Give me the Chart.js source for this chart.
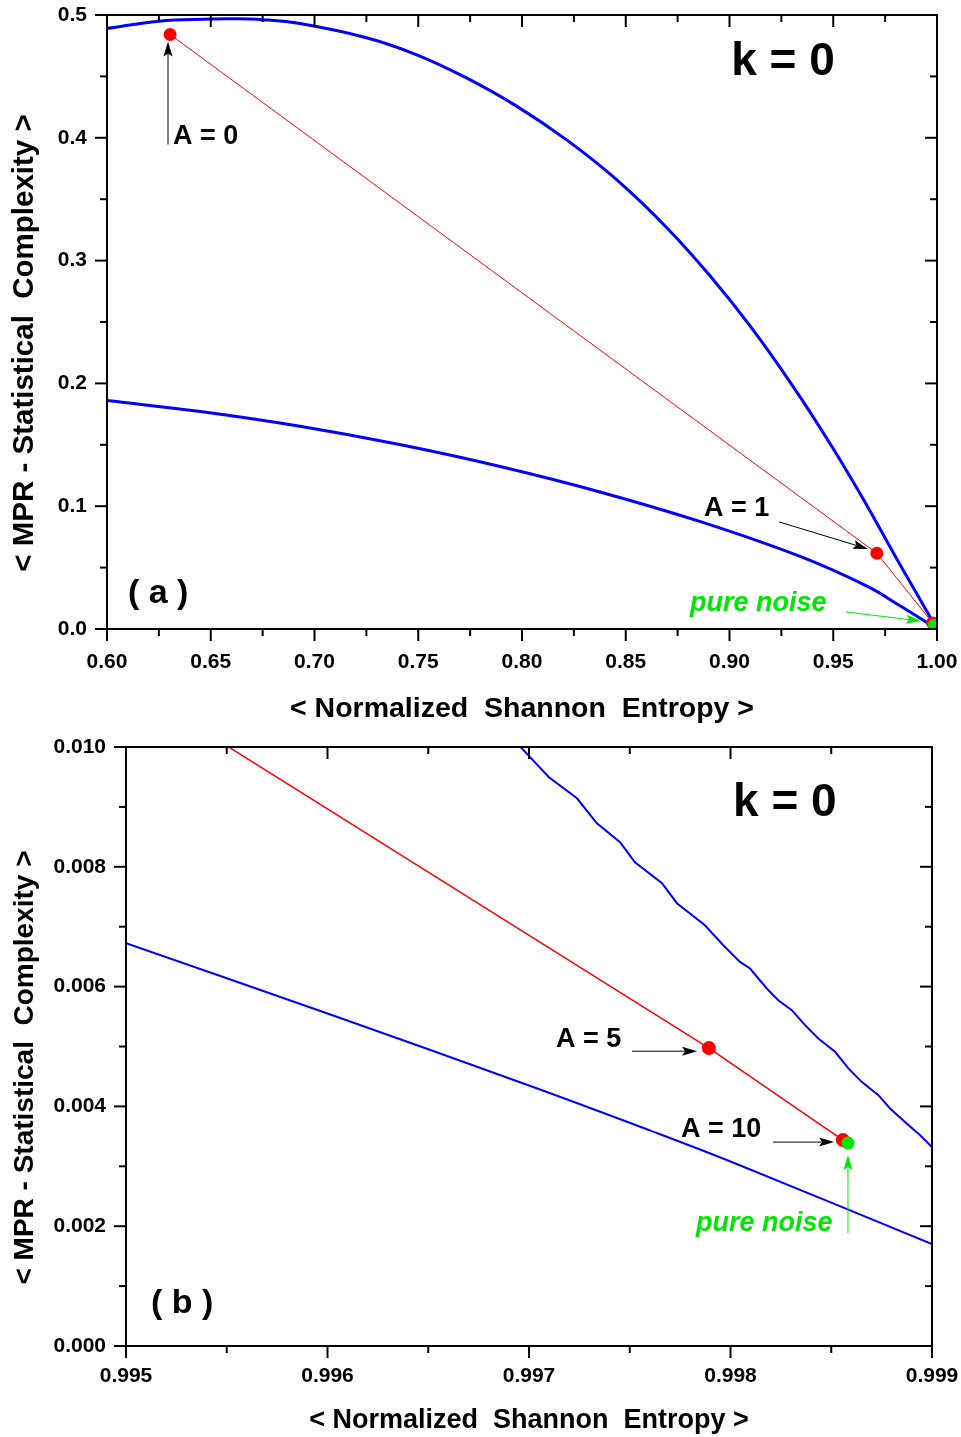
<!DOCTYPE html>
<html>
<head>
<meta charset="utf-8">
<title>MPR complexity vs normalized Shannon entropy, k = 0</title>
<script src="https://cdn.jsdelivr.net/npm/chart.js@4.4.1/dist/chart.umd.min.js"></script>
<style>
  html, body { margin: 0; padding: 0; background: #fff; }
  #wrap { position: relative; width: 961px; height: 1437px; }
  #wrap canvas { position: absolute; left: 0; }
</style>
</head>
<body>
<div id="wrap">
  <canvas id="panelA" width="961" height="730" style="top:0"></canvas>
  <canvas id="panelB" width="961" height="707" style="top:730px"></canvas>
</div>
<script>
// ---- panel (a) data ----
const maxH_a = [0.600, 0.625, 0.650, 0.660, 0.675, 0.693, 0.725, 0.749, 0.773, 0.797, 0.822, 0.846, 0.870, 0.891, 0.910, 0.931, 0.950, 0.966, 0.979, 0.990, 1.000];
const maxC_a = [0.489, 0.4950, 0.4967, 0.4970, 0.4962, 0.4930, 0.4815, 0.4678, 0.4490, 0.4262, 0.3977, 0.3653, 0.3264, 0.2869, 0.2466, 0.1966, 0.1468, 0.1012, 0.0619, 0.0295, 0.000];
const minH_a = [0.600, 0.645, 0.693, 0.741, 0.789, 0.838, 0.886, 0.934, 0.966, 0.982, 1.000];
const minC_a = [0.1861, 0.1771, 0.1651, 0.1502, 0.1325, 0.1114, 0.0874, 0.0591, 0.0351, 0.0191, 0.000];
const xTicks_a = [0.60, 0.65, 0.70, 0.75, 0.80, 0.85, 0.90, 0.95, 1.00];
const yTicks_a = [0.0, 0.1, 0.2, 0.3, 0.4, 0.5];

// ---- panel (b) data ----
const maxH_b = [0.99692, 0.996955, 0.997099, 0.997238, 0.997337, 0.997452, 0.997526, 0.997660, 0.997734, 0.997799, 0.997873, 0.997964, 0.998047, 0.998097, 0.998180, 0.998237, 0.998304, 0.998370, 0.998436, 0.998519, 0.998585, 0.998651, 0.998734, 0.998792, 0.998874, 0.998940, 0.999006];
const maxC_b = [0.01014, 0.01001, 0.009494, 0.009144, 0.008727, 0.008410, 0.008076, 0.007726, 0.007392, 0.007220, 0.007025, 0.006691, 0.006413, 0.006302, 0.005969, 0.005773, 0.005607, 0.005356, 0.005134, 0.004911, 0.004634, 0.004410, 0.004188, 0.003966, 0.003716, 0.003521, 0.003299];
const minH_b = [0.995, 0.996, 0.997, 0.9976, 0.998, 0.999];
const minC_b = [0.006725, 0.00555, 0.00435, 0.0036, 0.00308, 0.0017];
const xTicks_b = [0.995, 0.996, 0.997, 0.998, 0.999];
const yTicks_b = [0.000, 0.002, 0.004, 0.006, 0.008, 0.010];

// ---- model path A = 0, 1, 5, 10 and pure noise (shared) ----
const ampLabels = ['A = 0', 'A = 1', 'A = 5', 'A = 10'];
const pathH = [0.6304, 0.9710, 0.997893, 0.998558];
const pathC = [0.4841, 0.0617, 0.004973, 0.003437];
const noiseH = [0.998583];
const noiseC = [0.003387];

const FONT = "'Liberation Sans', Arial, sans-serif";
const BLUE = '#0000ff', RED = '#ff0000', GREEN = '#00e600';

const xy = (hs, cs) => hs.map((h, i) => ({ x: h, y: cs[i] }));

function arrow(ctx, x1, y1, x2, y2, color) {
  const ang = Math.atan2(y2 - y1, x2 - x1);
  const len = 15, half = 4.5;
  const c = Math.cos(ang), s = Math.sin(ang);
  ctx.strokeStyle = color;
  ctx.fillStyle = color;
  ctx.lineWidth = 1;
  ctx.beginPath();
  ctx.moveTo(x1, y1);
  ctx.lineTo(x2 - c * len * 0.8, y2 - s * len * 0.8);
  ctx.stroke();
  ctx.beginPath();
  ctx.moveTo(x2, y2);
  ctx.lineTo(x2 - c * len - s * half, y2 - s * len + c * half);
  ctx.lineTo(x2 - c * len * 0.8, y2 - s * len * 0.8);
  ctx.lineTo(x2 - c * len + s * half, y2 - s * len - c * half);
  ctx.closePath();
  ctx.fill();
}

// frame, inward/outward ticks, y title and annotations
const panelDecor = {
  id: 'panelDecor',
  afterDatasetsDraw(chart, args, opts) {
    const { ctx, chartArea: a, scales: { x, y } } = chart;
    ctx.save();
    ctx.strokeStyle = '#000';
    ctx.lineWidth = 2;
    ctx.strokeRect(a.left, a.top, a.right - a.left, a.bottom - a.top);

    const major = 12, minor = 7;
    const xs = x.ticks.map(t => t.value), ys = y.ticks.map(t => t.value);
    const mids = v => v.slice(1).map((t, i) => (t + v[i]) / 2);
    const tick = (x1, y1, x2, y2) => { ctx.beginPath(); ctx.moveTo(x1, y1); ctx.lineTo(x2, y2); ctx.stroke(); };
    [[xs, major], [mids(xs), minor]].forEach(([vals, l]) => vals.forEach(v => {
      const px = x.getPixelForValue(v);
      tick(px, a.bottom, px, a.bottom + l);
      tick(px, a.top, px, a.top + l);
    }));
    [[ys, major], [mids(ys), minor]].forEach(([vals, l]) => vals.forEach(v => {
      const py = y.getPixelForValue(v);
      tick(a.left, py, a.left - l, py);
      tick(a.right, py, a.right - l, py);
    }));

    // y axis title
    ctx.save();
    ctx.translate(25, (a.top + a.bottom) / 2 + 21);
    ctx.rotate(-Math.PI / 2);
    ctx.font = 'bold ' + opts.yTitleSize + 'px ' + FONT;
    ctx.fillStyle = '#000';
    ctx.textAlign = 'center';
    ctx.textBaseline = 'middle';
    ctx.fillText(opts.yTitle, 0, 0);
    ctx.restore();

    (opts.arrows || []).forEach(r => {
      arrow(ctx, x.getPixelForValue(r.from[0]), y.getPixelForValue(r.from[1]),
        x.getPixelForValue(r.to[0]), y.getPixelForValue(r.to[1]), r.color);
    });
    (opts.texts || []).forEach(t => {
      ctx.font = t.font + ' ' + FONT;
      ctx.fillStyle = t.color || '#000';
      ctx.textAlign = t.align || 'left';
      ctx.textBaseline = 'middle';
      ctx.fillText(t.text, x.getPixelForValue(t.at[0]), y.getPixelForValue(t.at[1]) + 2);
    });
    ctx.restore();
  }
};

// keep the plot box where layout.padding puts it
const noEdgePadding = s => { s.paddingTop = s.paddingBottom = s.paddingLeft = s.paddingRight = 0; };

function makePanel(id, cfg) {
  const tickFont = { family: FONT, size: 21, weight: 'bold' };
  return new Chart(document.getElementById(id), {
    type: 'scatter',
    data: {
      datasets: [
        { data: xy(noiseH, noiseC), showLine: false, pointRadius: cfg.dot - 0.5, pointBackgroundColor: GREEN, pointBorderWidth: 0 },
        { data: xy(pathH, pathC), showLine: true, borderColor: RED, borderWidth: cfg.redWidth, pointRadius: cfg.dot, pointBackgroundColor: RED, pointBorderWidth: 0 },
        { data: xy(cfg.maxH, cfg.maxC), showLine: true, borderColor: BLUE, borderWidth: cfg.blueWidth, pointRadius: 0, tension: cfg.tension },
        { data: xy(cfg.minH, cfg.minC), showLine: true, borderColor: BLUE, borderWidth: cfg.blueWidth, pointRadius: 0, tension: 0.4 }
      ]
    },
    options: {
      responsive: false,
      animation: false,
      events: [],
      layout: { padding: cfg.padding },
      plugins: {
        legend: { display: false },
        tooltip: { enabled: false },
        panelDecor: { yTitle: '< MPR - Statistical  Complexity >', yTitleSize: cfg.yTitleSize, texts: cfg.texts, arrows: cfg.arrows }
      },
      scales: {
        x: {
          type: 'linear', min: cfg.xTicks[0], max: cfg.xTicks[cfg.xTicks.length - 1],
          afterBuildTicks: s => { s.ticks = cfg.xTicks.map(v => ({ value: v })); },
          afterFit: s => { s.height = cfg.xHeight; noEdgePadding(s); },
          grid: { display: false, drawTicks: false },
          border: { display: false },
          ticks: { font: tickFont, color: '#000', padding: cfg.xPad, maxRotation: 0, autoSkip: false, callback: v => v.toFixed(cfg.xDec) },
          title: { display: true, text: '< Normalized  Shannon  Entropy >', color: '#000', font: { family: FONT, size: cfg.xTitleSize, weight: 'bold' }, padding: { top: 0, bottom: cfg.titlePad } }
        },
        y: {
          type: 'linear', min: cfg.yTicks[0], max: cfg.yTicks[cfg.yTicks.length - 1],
          afterBuildTicks: s => { s.ticks = cfg.yTicks.map(v => ({ value: v })); },
          afterFit: s => { s.width = cfg.yWidth; noEdgePadding(s); },
          grid: { display: false, drawTicks: false },
          border: { display: false },
          ticks: { font: tickFont, color: '#000', padding: 20, autoSkip: false, callback: v => v.toFixed(cfg.yDec) }
        }
      }
    },
    plugins: [panelDecor]
  });
}

makePanel('panelA', {
  maxH: maxH_a, maxC: maxC_a, minH: minH_a, minC: minC_a, tension: 0.4,
  xTicks: xTicks_a, yTicks: yTicks_a, xDec: 2, yDec: 1,
  padding: { top: 15, right: 24, left: 0, bottom: 0 }, xHeight: 101, yWidth: 107,
  xPad: 21, titlePad: 4, xTitleSize: 28.5, yTitleSize: 29.5, blueWidth: 3, redWidth: 1, dot: 6.5,
  texts: [
    { text: 'k = 0', at: [0.9258, 0.4635], font: 'bold 46px', align: 'center' },
    { text: ampLabels[0], at: [0.6318, 0.4026], font: 'bold 27px' },
    { text: ampLabels[1], at: [0.8877, 0.0994], font: 'bold 27px' },
    { text: 'pure noise', at: [0.8810, 0.0220], font: 'italic bold 27px', color: GREEN },
    { text: '( a )', at: [0.6101, 0.0302], font: 'bold 34px' }
  ],
  arrows: [
    { from: [0.6294, 0.3945], to: [0.6294, 0.4784], color: '#000' },
    { from: [0.9239, 0.0872], to: [0.9667, 0.0652], color: '#000' },
    { from: [0.9561, 0.01386], to: [0.9923, 0.0065], color: GREEN }
  ]
});

makePanel('panelB', {
  maxH: maxH_b, maxC: maxC_b, minH: minH_b, minC: minC_b, tension: 0,
  xTicks: xTicks_b, yTicks: yTicks_b, xDec: 3, yDec: 3,
  padding: { top: 17, right: 29, left: 0, bottom: 0 }, xHeight: 91, yWidth: 126,
  xPad: 18, titlePad: 0, xTitleSize: 27, yTitleSize: 28, blueWidth: 2, redWidth: 1.5, dot: 7,
  texts: [
    { text: 'k = 0', at: [0.998270, 0.009094], font: 'bold 46px', align: 'center' },
    { text: ampLabels[2], at: [0.997134, 0.005156], font: 'bold 27px' },
    { text: ampLabels[3], at: [0.997754, 0.003654], font: 'bold 27px' },
    { text: 'pure noise', at: [0.997829, 0.002086], font: 'italic bold 27px', color: GREEN },
    { text: '( b )', at: [0.995124, 0.000734], font: 'bold 34px' }
  ],
  arrows: [
    { from: [0.997511, 0.004922], to: [0.997834, 0.004922], color: '#000' },
    { from: [0.998211, 0.003404], to: [0.998514, 0.003404], color: '#000' },
    { from: [0.998583, 0.001886], to: [0.998583, 0.003187], color: GREEN }
  ]
});
</script>
</body>
</html>
